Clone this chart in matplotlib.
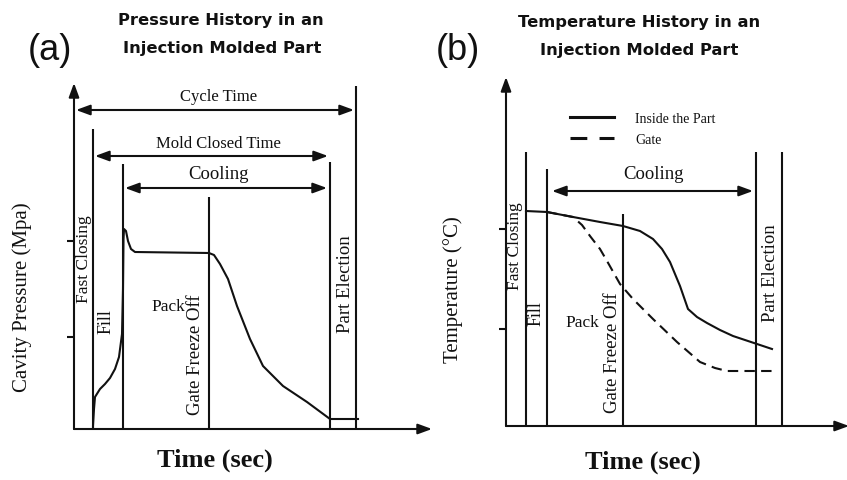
import matplotlib
matplotlib.use("Agg")
import matplotlib.pyplot as plt
from matplotlib.lines import Line2D

# ---------------- data (schematic units: time / value) ----------------
# Panel (a): cavity pressure history
pressure_time = [19, 19, 20, 21, 26, 31, 36, 41, 45, 48, 49, 49.5, 50, 52, 54, 57, 61,
                 135, 140, 146, 154, 163, 176, 189, 209, 233, 256, 284]
pressure_value = [0, 3, 20, 32, 40, 45, 51, 60, 72, 95, 140, 190, 200, 198, 188, 180, 177,
                  176, 174, 165, 150, 123, 90, 63, 43, 27, 10, 10]
pressure_phase_times = [19, 49, 135, 256, 282]
pressure_phase_tops = [300, 265, 232, 267, 343]
pressure_yticks = [92, 188]

# Panel (b): temperature history
temp_part_time = [20, 41, 67, 94, 117, 134, 147, 156, 164, 174, 182, 191, 201, 214, 227, 251, 266]
temp_part_value = [215, 214, 209, 204, 200, 195, 187, 177, 164, 140, 117, 109, 103, 96, 90, 82, 77]
temp_gate_time = [41, 67, 76, 84, 94, 101, 114, 127, 147, 171, 194, 209, 221, 266]
temp_gate_value = [214, 209, 201, 190, 177, 165, 142, 127, 107, 84, 64, 58, 55, 55]
temp_phase_times = [20, 41, 117, 250, 276]
temp_phase_tops = [274, 257, 212, 274, 274]
temp_yticks = [97, 197]

phase_labels = ["Fast Closing", "Fill", "Pack", "Gate Freeze Off", "Part Election"]
series_labels = ["Inside the Part", "Gate"]

# ---------------- figure ----------------
W, H = 847, 481
fig = plt.figure(figsize=(W / 100, H / 100), dpi=100)
fig.patch.set_facecolor("white")

INK = "#111111"
SERIF = "Liberation Serif"
LW = 1.5


def make_axes(ox, oy, right, top):
    ax = fig.add_axes([ox / W, (H - oy) / H, (right - ox) / W, (oy - top) / H])
    ax.set_xlim(0, right - ox)
    ax.set_ylim(0, oy - top)
    for s in ax.spines.values():
        s.set_visible(False)
    ax.set_facecolor("none")
    ax.set_xticks([])
    ax.tick_params(axis="y", length=5, width=1.5, color=INK, direction="out")
    return ax


def arrow(ax, x0, y0, x1, y1, style):
    ax.annotate("", xy=(x1, y1), xytext=(x0, y0),
                arrowprops=dict(arrowstyle=style + ",head_length=0.6,head_width=0.22",
                                lw=LW, color=INK, shrinkA=0, shrinkB=0,
                                mutation_scale=14),
                annotation_clip=False)


def label(ax, x, y, s, size, rot=0, **kw):
    ax.text(x, y, s, family=SERIF, fontsize=size, rotation=rot,
            ha="center", va="center", color=INK, **kw)


# ---------------- panel (a) ----------------
axa = make_axes(74, 430, 430, 80)
axa.set_yticks(pressure_yticks)
axa.set_yticklabels([])
arrow(axa, 0, 0, 0, 346, "-|>")
arrow(axa, 0, 0, 358, 0, "-|>")
axa.vlines(pressure_phase_times, 0, pressure_phase_tops, color=INK, lw=LW)
axa.plot(pressure_time, pressure_value, color=INK, lw=LW, solid_joinstyle="round")

arrow(axa, 2, 319, 280, 319, "<|-|>")
arrow(axa, 21, 273, 254, 273, "<|-|>")
arrow(axa, 51, 241, 253, 241, "<|-|>")
label(axa, 145, 333, "Cycle Time", 12)
label(axa, 144, 286, "Mold Closed Time", 12)
label(axa, 144, 255, "Cooling", 13.5)

label(axa, 10, 171, phase_labels[0], 12.5, 90)
label(axa, 32, 108, phase_labels[1], 13, 90)
label(axa, 94, 123, phase_labels[2], 12.5)
label(axa, 121, 75, phase_labels[3], 13.5, 90)
label(axa, 271, 146, phase_labels[4], 13.5, 90)

label(axa, -52, 133, "Cavity Pressure (Mpa)", 15, 90)
label(axa, 141, -30, "Time (sec)", 19, fontweight="bold")

# ---------------- panel (b) ----------------
axb = make_axes(506, 427, 847, 77)
axb.set_yticks(temp_yticks)
axb.set_yticklabels([])
arrow(axb, 0, 0, 0, 349, "-|>")
arrow(axb, 0, 0, 343, 0, "-|>")
axb.vlines(temp_phase_times, 0, temp_phase_tops, color=INK, lw=LW)
axb.plot(temp_part_time, temp_part_value, color=INK, lw=LW, label=series_labels[0])
axb.plot(temp_gate_time, temp_gate_value, color=INK, lw=LW, linestyle=(0, (5, 3)),
         label=series_labels[1])

arrow(axb, 46, 235, 247, 235, "<|-|>")
label(axb, 147, 252, "Cooling", 13.5)

label(axb, 9, 181, phase_labels[0], 12.5, 90)
label(axb, 30, 113, phase_labels[1], 13, 90)
label(axb, 76, 104, phase_labels[2], 12.5)
label(axb, 106, 74, phase_labels[3], 13.5, 90)
label(axb, 264, 154, phase_labels[4], 13.5, 90)

label(axb, -53, 137, "Temperature (°C)", 15, 90)
label(axb, 137, -35, "Time (sec)", 19, fontweight="bold")

handles = [Line2D([], [], color=INK, lw=2.2),
           Line2D([], [], color=INK, lw=2.2, linestyle=(0, (5.5, 4)))]
leg = axb.legend(handles, series_labels, loc="upper left",
                 bbox_to_anchor=(570 / W, 1 - 113 / H), bbox_transform=fig.transFigure,
                 frameon=False, prop={"family": SERIF, "size": 10},
                 handlelength=3.2, handletextpad=1.5, labelspacing=0.55,
                 borderpad=0, borderaxespad=0)
for t in leg.get_texts():
    t.set_color(INK)

# ---------------- titles ----------------
def ftext(x, y, s, **kw):
    fig.text(x / W, 1 - y / H, s, ha="center", va="center", color=INK, **kw)

ftext(221, 20, "Pressure History in an", family="DejaVu Sans", fontweight="bold", fontsize=11.8)
ftext(222, 48, "Injection Molded Part", family="DejaVu Sans", fontweight="bold", fontsize=11.8)
ftext(639, 22, "Temperature History in an", family="DejaVu Sans", fontweight="bold", fontsize=11.8)
ftext(639, 50, "Injection Molded Part", family="DejaVu Sans", fontweight="bold", fontsize=11.8)
ftext(50, 50, "(a)", family="Liberation Sans", fontsize=26)
ftext(458, 50, "(b)", family="Liberation Sans", fontsize=26)

fig.savefig("out.png", dpi=100, facecolor="white")
